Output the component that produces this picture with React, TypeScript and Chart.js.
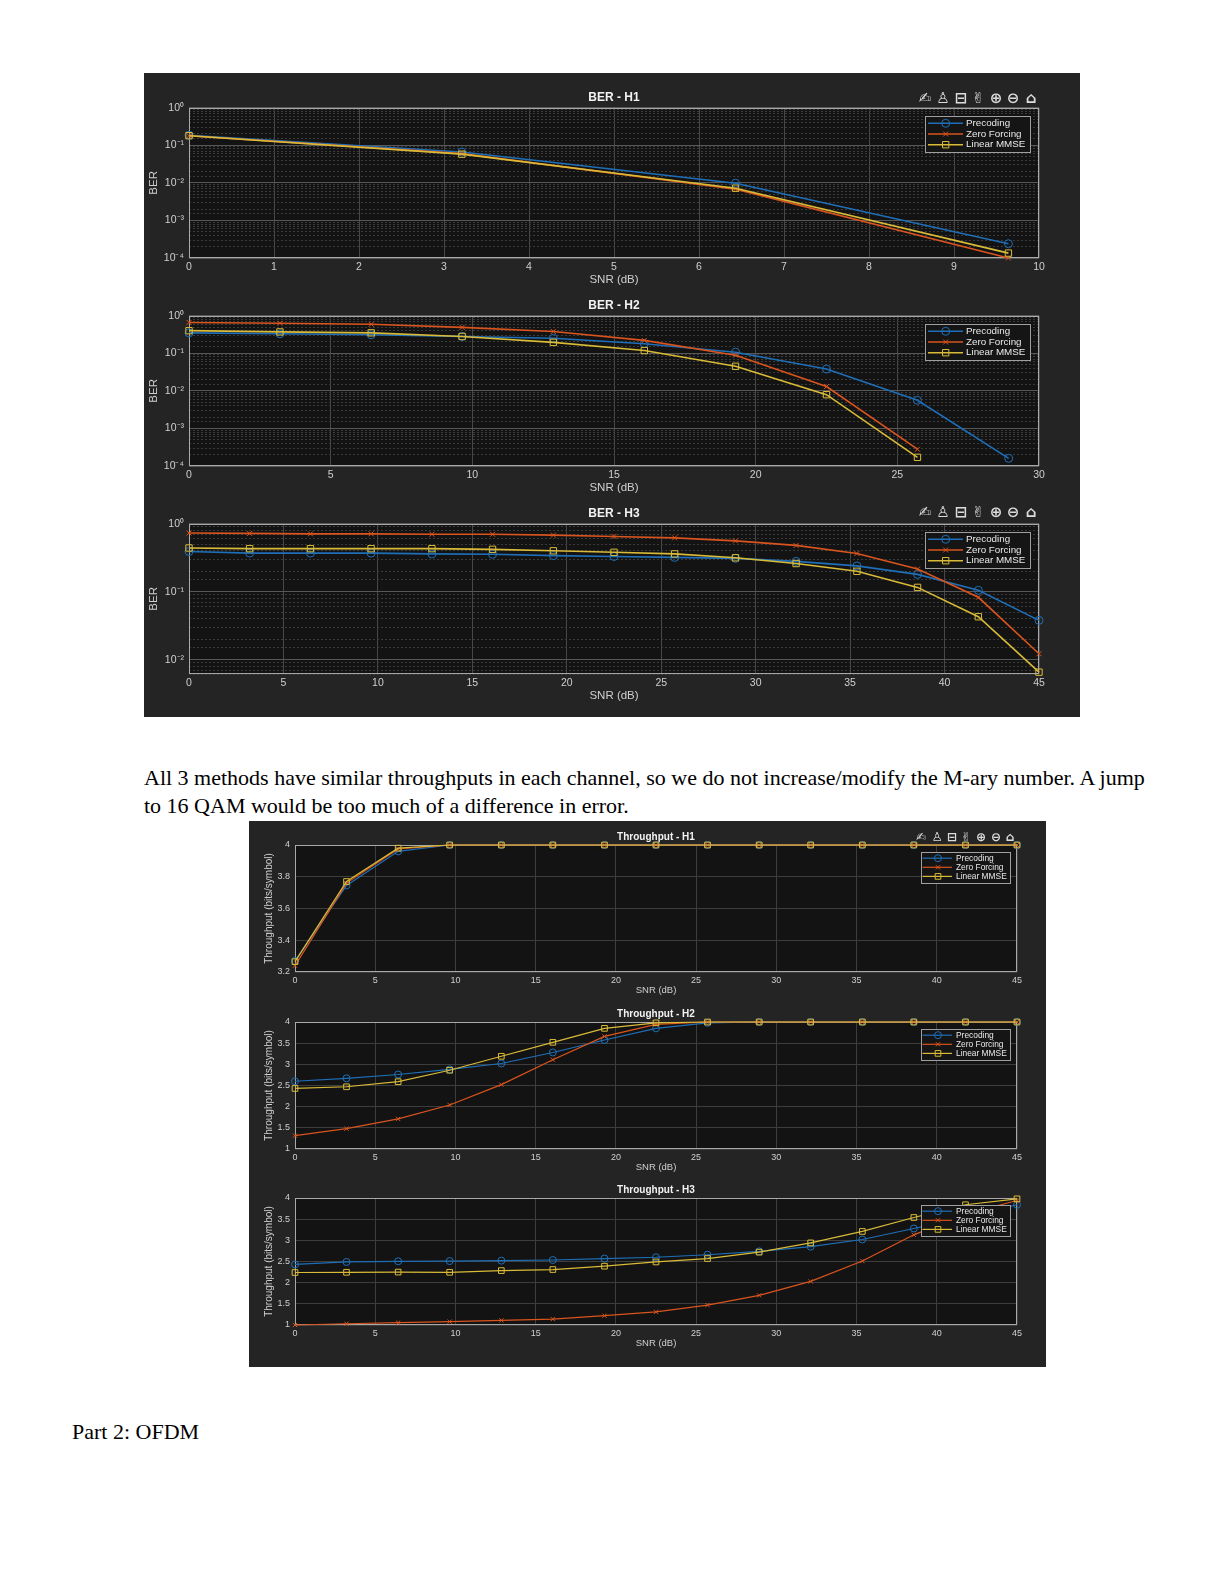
import React, { useEffect, useRef } from 'react';
import { Chart, registerables } from 'chart.js';
import type { ChartConfiguration } from 'chart.js';
import { drawPoint } from 'chart.js/helpers';

Chart.register(...registerables);

Chart.defaults.font.family = "'Liberation Sans', Arial, Helvetica, sans-serif";

// SNR sweep shared by every subplot (dB)
const snrDb = [0, 3.21, 6.43, 9.64, 12.86, 16.07, 19.29, 22.5, 25.71, 28.93, 32.14, 35.36, 38.57, 41.79, 45];

const seriesLabels = ['Precoding', 'Zero Forcing', 'Linear MMSE'];

// BER curves (null = zero errors, not drawn on the log axis)
const berH1Precoding = [0.185, 0.066, 0.0098, 0.00024, null, null, null, null, null, null, null, null, null, null, null];
const berH1ZeroForcing = [0.18, 0.06, 0.0068, 0.0001, null, null, null, null, null, null, null, null, null, null, null];
const berH1Mmse = [0.18, 0.058, 0.0072, 0.000135, null, null, null, null, null, null, null, null, null, null, null];

const berH2Precoding = [0.35, 0.33, 0.31, 0.28, 0.25, 0.18, 0.107, 0.038, 0.0056, 0.00016, null, null, null, null, null];
const berH2ZeroForcing = [0.66, 0.63, 0.59, 0.49, 0.38, 0.22, 0.089, 0.013, 0.00028, null, null, null, null, null, null];
const berH2Mmse = [0.4, 0.37, 0.35, 0.28, 0.195, 0.118, 0.045, 0.0079, 0.00017, null, null, null, null, null, null];

const berH3Precoding = [0.39, 0.37, 0.37, 0.37, 0.36, 0.355, 0.34, 0.33, 0.32, 0.31, 0.28, 0.24, 0.18, 0.105, 0.038];
const berH3ZeroForcing = [0.73, 0.72, 0.71, 0.71, 0.7, 0.7, 0.68, 0.65, 0.62, 0.56, 0.48, 0.365, 0.216, 0.083, 0.0123];
const berH3Mmse = [0.44, 0.43, 0.43, 0.43, 0.43, 0.42, 0.4, 0.38, 0.36, 0.316, 0.26, 0.2, 0.116, 0.043, 0.0066];

// Throughput curves (bits/symbol)
const tpH1Precoding = [3.27, 3.745, 3.96, 4, 4, 4, 4, 4, 4, 4, 4, 4, 4, 4, 4];
const tpH1ZeroForcing = [3.24, 3.76, 3.975, 4, 4, 4, 4, 4, 4, 4, 4, 4, 4, 4, 4];
const tpH1Mmse = [3.265, 3.77, 3.98, 4, 4, 4, 4, 4, 4, 4, 4, 4, 4, 4, 4];

const tpH2Precoding = [2.6, 2.67, 2.76, 2.88, 3.02, 3.28, 3.575, 3.85, 3.98, 4, 4, 4, 4, 4, 4];
const tpH2ZeroForcing = [1.315, 1.48, 1.71, 2.04, 2.52, 3.11, 3.66, 3.945, 4, 4, 4, 4, 4, 4, 4];
const tpH2Mmse = [2.43, 2.47, 2.59, 2.86, 3.19, 3.52, 3.85, 3.98, 4, 4, 4, 4, 4, 4, 4];

const tpH3Precoding = [2.43, 2.49, 2.505, 2.51, 2.52, 2.535, 2.57, 2.6, 2.66, 2.74, 2.85, 3.02, 3.28, 3.55, 3.84];
const tpH3ZeroForcing = [1.0, 1.03, 1.055, 1.08, 1.11, 1.14, 1.22, 1.31, 1.47, 1.7, 2.03, 2.51, 3.13, 3.62, 3.94];
const tpH3Mmse = [2.24, 2.245, 2.25, 2.245, 2.285, 2.31, 2.39, 2.49, 2.57, 2.72, 2.94, 3.21, 3.54, 3.84, 3.98];

// MATLAB dark theme-ish colours
const BLUE = '#1f6fb8';
const ORANGE = '#d9541e';
const YELLOW = '#d9bb38';
const FIG_BG = '#242424';
const AX_BG = '#131313';
const TICK_COLOR = '#cfcfcf';
const GRID = '#3d3d3d';
const GRID_MAJOR = '#575757';
const GRID_MINOR = '#3b3b3b';

type PlotSpec = {
  title: string;
  log: boolean;
  xMax: number;
  xStep: number;
  yMin: number;
  yMax: number;
  yStep?: number;
  yLabel: string;
  series: (number | null)[][];
};

type Metrics = {
  w: number;
  h: number;
  yAxisW: number;
  xAxisH: number;
  rightPad: number;
  titleSize: number;
  titlePad: { top: number; bottom: number };
  tickSize: number;
  xTickPad: number;
  yTickPad: number;
  xLabelSize: number;
  yLabelSize: number;
  xTitlePadBottom: number;
  yTitlePadTop: number;
  lineW: number;
  radius: number[];
  legend: {
    width: number;
    height: number;
    right: number;
    top: number;
    firstRow: number;
    rowStep: number;
    lineFrom: number;
    lineTo: number;
    marker: number;
    textX: number;
    fontSize: number;
  };
};

const BIG: Metrics = {
  w: 936,
  h: 204,
  yAxisW: 45,
  xAxisH: 32,
  rightPad: 41,
  titleSize: 12,
  titlePad: { top: 4.8, bottom: 2.5 },
  tickSize: 10.5,
  xTickPad: 3.2,
  yTickPad: 5,
  xLabelSize: 11.5,
  yLabelSize: 11.5,
  xTitlePadBottom: 3.1,
  yTitlePadTop: 2.7,
  lineW: 1.6,
  radius: [4, 3.5, 4.5],
  legend: { width: 105, height: 36, right: 9, top: 8, firstRow: 7.3, rowStep: 10.7, lineFrom: 3, lineTo: 38, marker: 20.7, textX: 41, fontSize: 9.8 },
};

const SMALL: Metrics = {
  w: 797,
  h: 172,
  yAxisW: 46,
  xAxisH: 27,
  rightPad: 29,
  titleSize: 10,
  titlePad: { top: 4, bottom: 2 },
  tickSize: 9,
  xTickPad: 3.6,
  yTickPad: 5,
  xLabelSize: 9.5,
  yLabelSize: 10,
  xTitlePadBottom: 3.3,
  yTitlePadTop: 14.7,
  lineW: 1.2,
  radius: [3.5, 3, 4],
  legend: { width: 89, height: 31, right: 7, top: 7, firstRow: 6.2, rowStep: 9.1, lineFrom: 1.5, lineTo: 31, marker: 17, textX: 35, fontSize: 8.4 },
};

const berSpecs: PlotSpec[] = [
  { title: 'BER - H1', log: true, xMax: 10, xStep: 1, yMin: 1e-4, yMax: 1, yLabel: 'BER', series: [berH1Precoding, berH1ZeroForcing, berH1Mmse] },
  { title: 'BER - H2', log: true, xMax: 30, xStep: 5, yMin: 1e-4, yMax: 1, yLabel: 'BER', series: [berH2Precoding, berH2ZeroForcing, berH2Mmse] },
  { title: 'BER - H3', log: true, xMax: 45, xStep: 5, yMin: 0.0062, yMax: 1, yLabel: 'BER', series: [berH3Precoding, berH3ZeroForcing, berH3Mmse] },
];

const tpSpecs: PlotSpec[] = [
  { title: 'Throughput - H1', log: false, xMax: 45, xStep: 5, yMin: 3.2, yMax: 4, yStep: 0.2, yLabel: 'Throughput (bits/symbol)', series: [tpH1Precoding, tpH1ZeroForcing, tpH1Mmse] },
  { title: 'Throughput - H2', log: false, xMax: 45, xStep: 5, yMin: 1, yMax: 4, yStep: 0.5, yLabel: 'Throughput (bits/symbol)', series: [tpH2Precoding, tpH2ZeroForcing, tpH2Mmse] },
  { title: 'Throughput - H3', log: false, xMax: 45, xStep: 5, yMin: 1, yMax: 4, yStep: 0.5, yLabel: 'Throughput (bits/symbol)', series: [tpH3Precoding, tpH3ZeroForcing, tpH3Mmse] },
];

const SUP: Record<string, string> = { '0': '⁰', '1': '¹', '2': '²', '3': '³', '4': '⁴', '5': '⁵', '-': '⁻' };

const isPow10 = (v?: number) => {
  if (v === undefined || v <= 0) return false;
  const l = Math.log10(v);
  return Math.abs(l - Math.round(l)) < 1e-6;
};

const pow10Label = (v: number) => {
  if (!isPow10(v)) return '';
  const e = Math.round(Math.log10(v));
  return '10' + String(e).split('').map((c) => SUP[c]).join('');
};

// MATLAB prints 4 rather than 4.0
const plainLabel = (v: number) => String(Math.round(v * 100) / 100);

// axes background
const plotBg = {
  id: 'plotBg',
  beforeDraw(chart: any) {
    const { ctx, chartArea: a } = chart;
    ctx.save();
    ctx.fillStyle = AX_BG;
    ctx.fillRect(a.left, a.top, a.width, a.height);
    ctx.restore();
  },
};

// box around the axes
const plotFrame = {
  id: 'plotFrame',
  beforeDatasetsDraw(chart: any) {
    const { ctx, chartArea: a } = chart;
    ctx.save();
    ctx.strokeStyle = '#a9a9a9';
    ctx.lineWidth = 1;
    ctx.strokeRect(Math.round(a.left) + 0.5, Math.round(a.top) + 0.5, Math.round(a.width) - 1, Math.round(a.height) - 1);
    ctx.restore();
  },
};

// MATLAB style legend box in the top right of the axes
const legendBox = {
  id: 'legendBox',
  afterDatasetsDraw(chart: any, _args: unknown, o: any) {
    const { ctx, chartArea } = chart;
    const x0 = Math.round(chartArea.right - o.right - o.width);
    const y0 = Math.round(chartArea.top + o.top);
    ctx.save();
    ctx.fillStyle = '#151515';
    ctx.fillRect(x0, y0, o.width, o.height);
    ctx.strokeStyle = '#a0a0a0';
    ctx.lineWidth = 1;
    ctx.strokeRect(x0 + 0.5, y0 + 0.5, o.width, o.height);
    ctx.font = `${o.fontSize}px 'Liberation Sans', Arial, sans-serif`;
    ctx.textBaseline = 'middle';
    ctx.textAlign = 'left';
    chart.data.datasets.forEach((ds: any, i: number) => {
      const y = y0 + o.firstRow + i * o.rowStep;
      ctx.strokeStyle = ds.borderColor;
      ctx.lineWidth = ds.borderWidth;
      ctx.beginPath();
      ctx.moveTo(x0 + o.lineFrom, y);
      ctx.lineTo(x0 + o.lineTo, y);
      ctx.stroke();
      ctx.lineWidth = 1;
      ctx.fillStyle = 'rgba(0,0,0,0)';
      drawPoint(ctx, { pointStyle: ds.pointStyle, rotation: 0, radius: ds.pointRadius, borderWidth: 1 } as any, x0 + o.marker, y);
      ctx.fillStyle = '#e8e8e8';
      ctx.fillText(ds.label, x0 + o.textX, y);
    });
    ctx.restore();
  },
};

function buildConfig(spec: PlotSpec, m: Metrics): ChartConfiguration {
  const colors = [BLUE, ORANGE, YELLOW];
  const styles = ['circle', 'crossRot', 'rect'];
  const datasets = spec.series.map((vals, i) => ({
    label: seriesLabels[i],
    data: snrDb.map((x, j) => ({ x, y: vals[j] })),
    borderColor: colors[i],
    backgroundColor: 'rgba(0,0,0,0)',
    pointBackgroundColor: 'rgba(0,0,0,0)',
    pointBorderColor: colors[i],
    pointStyle: styles[i],
    pointRadius: m.radius[i],
    pointHoverRadius: m.radius[i],
    pointBorderWidth: 1,
    borderWidth: m.lineW,
    tension: 0,
    clip: false,
    order: 2 - i,
  }));

  const yTitle = {
    display: true,
    text: spec.yLabel,
    color: TICK_COLOR,
    font: { size: m.yLabelSize },
    padding: { top: m.yTitlePadTop, bottom: 0 },
  };

  const yScale = spec.log
    ? {
        type: 'logarithmic',
        min: spec.yMin,
        max: spec.yMax,
        ticks: {
          autoSkip: false,
          color: TICK_COLOR,
          font: { size: m.tickSize },
          padding: m.yTickPad,
          callback: (v: any) => pow10Label(Number(v)),
        },
        grid: {
          drawTicks: false,
          color: (c: any) => (isPow10(c.tick?.value) ? GRID_MAJOR : GRID_MINOR),
        },
        border: { display: false, dash: (c: any) => (isPow10(c.tick?.value) ? [] : [2, 2]) },
        title: yTitle,
        afterFit: (s: any) => {
          s.width = m.yAxisW;
        },
      }
    : {
        type: 'linear',
        min: spec.yMin,
        max: spec.yMax,
        ticks: {
          stepSize: spec.yStep,
          autoSkip: false,
          color: TICK_COLOR,
          font: { size: m.tickSize },
          padding: m.yTickPad,
          callback: (v: any) => plainLabel(Number(v)),
        },
        grid: { drawTicks: false, color: GRID },
        border: { display: false },
        title: yTitle,
        afterFit: (s: any) => {
          s.width = m.yAxisW;
        },
      };

  return {
    type: 'line',
    data: { datasets } as any,
    options: {
      animation: false,
      responsive: true,
      maintainAspectRatio: false,
      events: [],
      layout: { padding: { left: 0, right: m.rightPad, top: 0, bottom: 0 } },
      plugins: {
        legend: { display: false },
        tooltip: { enabled: false },
        title: {
          display: true,
          text: spec.title,
          color: '#f2f2f2',
          font: { size: m.titleSize, weight: 'bold' },
          padding: m.titlePad,
          fullSize: false,
        },
        legendBox: m.legend,
      } as any,
      scales: {
        x: {
          type: 'linear',
          min: 0,
          max: spec.xMax,
          ticks: { stepSize: spec.xStep, autoSkip: false, maxRotation: 0, color: TICK_COLOR, font: { size: m.tickSize }, padding: m.xTickPad },
          grid: { drawTicks: false, color: spec.log ? '#474747' : GRID },
          border: { display: false },
          title: {
            display: true,
            text: 'SNR (dB)',
            color: TICK_COLOR,
            font: { size: m.xLabelSize },
            padding: { top: 0, bottom: m.xTitlePadBottom },
          },
          afterFit: (s: any) => {
            s.height = m.xAxisH;
          },
        },
        y: yScale,
      } as any,
    },
    plugins: [plotBg, plotFrame, legendBox],
  };
}

function Subplot({ spec, m, top }: { spec: PlotSpec; m: Metrics; top: number }) {
  const canvasRef = useRef<HTMLCanvasElement>(null);

  useEffect(() => {
    if (!canvasRef.current) return;
    const chart = new Chart(canvasRef.current, buildConfig(spec, m));
    return () => chart.destroy();
  }, [spec, m]);

  return (
    <div style={{ position: 'absolute', left: 0, top, width: m.w, height: m.h }}>
      <canvas ref={canvasRef} />
    </div>
  );
}

// axes toolbar glyphs (brush, datatip, legend, pan, zoom in, zoom out, home)
const toolbarGlyphs = ['✍', '♙', '⊟', '✌', '⊕', '⊖', '⌂'];

function Toolbar({ xs, y, size }: { xs: number[]; y: number; size: number }) {
  return (
    <>
      {xs.map((x, i) => (
        <span
          key={i}
          style={{
            position: 'absolute',
            left: x - 10,
            top: y - size / 2 - 1,
            width: 20,
            textAlign: 'center',
            fontFamily: "'DejaVu Sans', sans-serif",
            fontSize: size,
            fontWeight: 'bold',
            lineHeight: `${size + 2}px`,
            color: '#dcdcdc',
          }}
        >
          {toolbarGlyphs[i]}
        </span>
      ))}
    </>
  );
}

const bodyText: React.CSSProperties = {
  position: 'absolute',
  fontFamily: "'Liberation Serif', 'Times New Roman', serif",
  fontSize: 22,
  lineHeight: '27.5px',
  color: '#000',
  whiteSpace: 'nowrap',
};

export default function App() {
  return (
    <div style={{ position: 'absolute', left: 0, top: 0, width: 1224, height: 1584, background: '#fff' }}>
      <div style={{ position: 'absolute', left: 144, top: 73, width: 936, height: 644, background: FIG_BG }}>
        <Subplot spec={berSpecs[0]} m={BIG} top={13} />
        <Subplot spec={berSpecs[1]} m={BIG} top={221} />
        <Subplot spec={berSpecs[2]} m={BIG} top={429} />
        <Toolbar xs={[781, 799, 817, 834, 852, 869, 887]} y={25} size={15} />
        <Toolbar xs={[781, 799, 817, 834, 852, 869, 887]} y={439} size={15} />
      </div>

      <div style={{ ...bodyText, left: 144, top: 764 }}>
        All 3 methods have similar throughputs in each channel, so we do not increase/modify the M-ary number. A jump
        <br />
        to 16 QAM would be too much of a difference in error.
      </div>

      <div style={{ position: 'absolute', left: 249, top: 821, width: 797, height: 546, background: FIG_BG }}>
        <Subplot spec={tpSpecs[0]} m={SMALL} top={6} />
        <Subplot spec={tpSpecs[1]} m={SMALL} top={183} />
        <Subplot spec={tpSpecs[2]} m={SMALL} top={359} />
        <Toolbar xs={[672, 688, 703, 717, 732, 747, 761]} y={16} size={12} />
      </div>

      <div style={{ ...bodyText, left: 72, top: 1418 }}>Part 2: OFDM</div>
    </div>
  );
}
